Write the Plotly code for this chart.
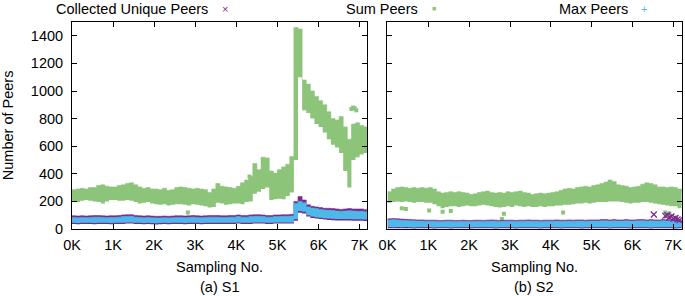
import plotly.graph_objects as go

# ---------------- data ----------------
sample_no = [i * 100 for i in range(73)]  # 0 .. 7200

x_tick_vals = [0, 1000, 2000, 3000, 4000, 5000, 6000, 7000]
x_tick_text = ["0K", "1K", "2K", "3K", "4K", "5K", "6K", "7K"]
y_tick_vals = [0, 200, 400, 600, 800, 1000, 1200, 1400]

# S1 – Sum Peers (upper / lower edge of the point cloud)
s1_sum_hi = [285, 290, 295, 290, 300, 300, 315, 320, 310, 305,
             305, 315, 320, 330, 335, 320, 305, 295, 300, 290,
             290, 285, 295, 280, 285, 300, 305, 300, 295, 290,
             295, 290, 285, 265, 290, 330, 310, 305, 300, 295,
             310, 335, 355, 380, 475, 430, 520, 515, 420, 405,
             430, 450, 470, 525, 1460, 1450, 1080, 1050, 1000, 960,
             930, 900, 850, 800, 790, 815, 740, 650, 760, 770,
             750, 740, 650]
s1_sum_lo = [200, 195, 205, 210, 205, 200, 195, 185, 200, 210,
             210, 205, 205, 210, 205, 195, 185, 190, 195, 185,
             180, 175, 180, 170, 175, 180, 180, 175, 170, 180,
             175, 170, 165, 155, 160, 190, 185, 175, 180, 185,
             185, 180, 195, 200, 255, 270, 290, 300, 210, 215,
             220, 215, 240, 265, 500, 1100, 860, 840, 800, 760,
             740, 700, 650, 610, 590, 550, 420, 300, 500, 520,
             540, 550, 560]
# S1 – Collected Unique Peers
s1_coll_hi = [96, 94, 96, 94, 96, 98, 98, 96, 94, 96,
              96, 98, 102, 104, 104, 98, 96, 94, 96, 94,
              92, 92, 94, 92, 94, 96, 96, 94, 96, 98,
              96, 94, 96, 98, 98, 98, 96, 96, 98, 98,
              102, 98, 98, 102, 104, 104, 102, 98, 98, 102,
              102, 104, 104, 106, 200, 235, 210, 175, 165, 160,
              155, 150, 150, 148, 145, 142, 145, 148, 145, 145,
              145, 140, 140]
s1_coll_lo = [36, 34, 36, 37, 36, 34, 36, 37, 36, 34,
              36, 37, 36, 39, 39, 37, 36, 34, 36, 34,
              32, 34, 36, 34, 36, 37, 36, 34, 36, 36,
              36, 34, 36, 37, 36, 37, 36, 36, 37, 37,
              39, 37, 36, 37, 39, 39, 39, 37, 37, 39,
              39, 39, 39, 39, 60, 118, 112, 90, 80, 76,
              72, 68, 66, 64, 62, 62, 62, 62, 60, 60,
              60, 58, 58]
# S1 – Max Peers
s1_max_hi = [84, 82, 84, 82, 84, 86, 86, 84, 82, 84,
             84, 86, 90, 92, 92, 86, 84, 82, 84, 82,
             80, 80, 82, 80, 82, 84, 84, 82, 84, 86,
             84, 82, 84, 86, 86, 86, 84, 84, 86, 86,
             90, 86, 86, 90, 92, 92, 90, 86, 86, 90,
             90, 92, 92, 94, 185, 200, 190, 160, 152, 148,
             142, 138, 136, 134, 130, 128, 130, 132, 130, 128,
             128, 125, 125]
s1_max_lo = [45, 43, 45, 46, 45, 43, 45, 46, 45, 43,
             45, 46, 45, 48, 48, 46, 45, 43, 45, 43,
             41, 43, 45, 43, 45, 46, 45, 43, 45, 45,
             45, 43, 45, 46, 45, 46, 45, 45, 46, 46,
             48, 46, 45, 46, 48, 48, 48, 46, 46, 48,
             48, 48, 48, 48, 70, 130, 125, 100, 90, 86,
             82, 78, 76, 74, 72, 72, 72, 72, 70, 70,
             70, 68, 68]

# S2 – Sum Peers
s2_sum_hi = [270, 290, 300, 305, 300, 295, 300, 295, 300, 295,
             300, 290, 270, 260, 265, 270, 265, 270, 265, 260,
             250, 255, 265, 270, 275, 265, 260, 265, 260, 270,
             265, 270, 275, 265, 260, 250, 255, 260, 255, 260,
             265, 270, 280, 290, 295, 290, 300, 305, 310, 305,
             315, 320, 330, 340, 355, 345, 320, 315, 310, 300,
             305, 310, 325, 335, 330, 320, 305, 305, 300, 305,
             300, 290, 260]
s2_sum_lo = [190, 195, 200, 195, 200, 195, 190, 195, 195, 190,
             190, 180, 165, 150, 160, 165, 165, 160, 165, 170,
             165, 165, 170, 175, 170, 165, 160, 155, 160, 165,
             160, 170, 165, 160, 165, 160, 160, 165, 160, 165,
             165, 170, 170, 175, 175, 180, 185, 185, 190, 185,
             190, 195, 195, 195, 200, 200, 200, 195, 190, 185,
             190, 190, 195, 195, 190, 185, 180, 175, 170, 165,
             165, 150, 150]
# S2 – Collected Unique Peers
s2_coll_hi = [74, 76, 74, 72, 70, 68, 67, 66, 66, 64,
              64, 64, 62, 62, 64, 64, 62, 62, 64, 62,
              62, 64, 64, 62, 64, 66, 64, 62, 64, 64,
              64, 62, 64, 64, 66, 64, 64, 62, 64, 64,
              64, 66, 64, 64, 66, 64, 66, 66, 64, 66,
              66, 66, 68, 68, 66, 68, 66, 66, 68, 66,
              66, 68, 68, 66, 68, 66, 66, 68, 66, 68,
              68, 66, 66]
s2_coll_lo = [6, 5, 6, 5, 6, 5, 4, 5, 6, 5,
              5, 4, 5, 6, 5, 4, 5, 5, 6, 5,
              4, 5, 5, 6, 5, 5, 4, 5, 6, 5,
              5, 4, 5, 5, 6, 5, 5, 4, 5, 6,
              5, 5, 4, 5, 6, 5, 5, 4, 5, 6,
              5, 5, 6, 5, 4, 5, 5, 6, 5, 4,
              5, 5, 6, 5, 4, 5, 5, 6, 5, 5,
              4, 5, 5]
# S2 – Max Peers
s2_max_hi = [66, 68, 66, 64, 62, 60, 59, 58, 58, 56,
             56, 56, 54, 54, 56, 56, 54, 54, 56, 54,
             54, 56, 56, 54, 56, 58, 56, 54, 56, 56,
             56, 54, 56, 56, 58, 56, 56, 54, 56, 56,
             56, 58, 56, 56, 58, 56, 58, 58, 56, 58,
             58, 58, 60, 60, 58, 60, 58, 58, 60, 58,
             58, 60, 60, 58, 60, 58, 58, 60, 58, 60,
             60, 58, 58]
s2_max_lo = [14, 12, 14, 12, 14, 12, 11, 12, 13, 12,
             12, 11, 12, 13, 12, 11, 12, 12, 13, 12,
             11, 12, 12, 13, 12, 12, 11, 12, 13, 12,
             12, 11, 12, 12, 13, 12, 12, 11, 12, 13,
             12, 12, 11, 12, 13, 12, 12, 11, 12, 13,
             12, 12, 13, 12, 11, 12, 12, 13, 12, 11,
             12, 12, 13, 12, 11, 12, 12, 13, 12, 12,
             11, 12, 12]

# isolated points outside the main clouds
s1_sum_out_x = [2820, 4320, 6800, 6840, 6880, 6920]
s1_sum_out_y = [120, 380, 870, 880, 875, 860]
s2_sum_out_x = [350, 450, 1020, 1350, 1550, 2800, 2850, 4300, 6800, 6900]
s2_sum_out_y = [150, 145, 134, 125, 130, 73, 110, 120, 120, 115]
s2_coll_out_x = [6520, 6800, 6850, 6900, 6950, 7000, 7050, 7100, 7150]
s2_coll_out_y = [105, 95, 100, 85, 90, 75, 80, 70, 65]

series_names = ["Collected Unique Peers", "Sum Peers", "Max Peers"]

# ---------------- styling ----------------
C_PURPLE = "#7d2a8e"
C_GREEN = "#8cc47a"
C_BLUE = "#4cb9e9"
FONT = "Liberation Sans, Arial, sans-serif"
FS = 14.5

W, H = 685, 296
ML, MR, MT, MB = 72, 1, 22, 67
PW, PH = W - ML - MR, H - MT - MB


def px_x(p):
    return (p - ML) / PW


def px_y(p):
    return (H - MB - p) / PH


fig = go.Figure()


def band(x, lo, hi, color, xa, ya):
    fig.add_trace(go.Scatter(x=x, y=lo, mode="lines", line=dict(width=0, color=color, shape="hv"),
                             showlegend=False, hoverinfo="skip", xaxis=xa, yaxis=ya))
    fig.add_trace(go.Scatter(x=x, y=hi, mode="lines", line=dict(width=0.6, color=color, shape="hv"),
                             fill="tonexty", fillcolor=color, showlegend=False,
                             hoverinfo="skip", xaxis=xa, yaxis=ya))


# S1
band(sample_no, s1_sum_lo, s1_sum_hi, C_GREEN, "x", "y")
fig.add_trace(go.Scatter(x=s1_sum_out_x, y=s1_sum_out_y, mode="markers",
                         marker=dict(symbol="square", size=4, color=C_GREEN),
                         showlegend=False, xaxis="x", yaxis="y"))
band(sample_no, s1_coll_lo, s1_coll_hi, C_PURPLE, "x", "y")
band(sample_no, s1_max_lo, s1_max_hi, C_BLUE, "x", "y")

# S2
band(sample_no, s2_sum_lo, s2_sum_hi, C_GREEN, "x2", "y2")
fig.add_trace(go.Scatter(x=s2_sum_out_x, y=s2_sum_out_y, mode="markers",
                         marker=dict(symbol="square", size=4, color=C_GREEN),
                         showlegend=False, xaxis="x2", yaxis="y2"))
band(sample_no, s2_coll_lo, s2_coll_hi, C_PURPLE, "x2", "y2")
band(sample_no, s2_max_lo, s2_max_hi, C_BLUE, "x2", "y2")
fig.add_trace(go.Scatter(x=s2_coll_out_x, y=s2_coll_out_y, mode="markers",
                         marker=dict(symbol="x-thin", size=6, color=C_PURPLE,
                                     line=dict(width=1.3, color=C_PURPLE)),
                         showlegend=False, xaxis="x2", yaxis="y2"))

axis_common = dict(showline=True, linecolor="black", linewidth=1, mirror="ticks",
                   ticks="inside", ticklen=5, tickcolor="black", tickwidth=1,
                   showgrid=False, zeroline=False,
                   tickfont=dict(family=FONT, size=FS, color="black"))

d1 = (0.0, px_x(368))
d2 = (px_x(388.5), 1.0)

fig.update_layout(
    width=W, height=H,
    margin=dict(l=ML, r=MR, t=MT, b=MB),
    paper_bgcolor="white", plot_bgcolor="white",
    showlegend=False,
    xaxis=dict(domain=d1, range=[0, 7180], tickvals=x_tick_vals, ticktext=x_tick_text,
               anchor="y", ticklabelstandoff=3, **axis_common),
    yaxis=dict(domain=[0, 1], range=[0, 1500], tickvals=y_tick_vals, anchor="x",
               ticklabelstandoff=5, **axis_common),
    xaxis2=dict(domain=d2, range=[0, 7210], tickvals=x_tick_vals, ticktext=x_tick_text,
                anchor="y2", ticklabelstandoff=3, **axis_common),
    yaxis2=dict(domain=[0, 1], range=[0, 1500], tickvals=y_tick_vals, anchor="x2",
                showticklabels=False, **axis_common),
)

ann = []
tf = dict(family=FONT, size=FS, color="black")
# axis titles and captions
ann.append(dict(x=px_x(7.5), y=0.5, xref="paper", yref="paper", text="Number of Peers",
                textangle=-90, showarrow=False, font=tf, xanchor="center", yanchor="middle"))
for cx, cap in [(220, "(a) S1"), (536, "(b) S2")]:
    ann.append(dict(x=px_x(cx), y=px_y(267), xref="paper", yref="paper", text="Sampling No.",
                    showarrow=False, font=tf, xanchor="center", yanchor="middle"))
    ann.append(dict(x=px_x(cx), y=px_y(287), xref="paper", yref="paper", text=cap,
                    showarrow=False, font=tf, xanchor="center", yanchor="middle"))
# legend (gnuplot-like: text, then sample)
legend_items = [(series_names[0], 210, 226, "×", C_PURPLE, 11),
                (series_names[1], 421, 435, "■", C_GREEN, 7),
                (series_names[2], 632, 646, "+", C_BLUE, 11)]
for name, tx, mx, sym, col, sz in legend_items:
    ann.append(dict(x=px_x(tx), y=px_y(9), xref="paper", yref="paper", text=name,
                    showarrow=False, font=tf, xanchor="right", yanchor="middle"))
    ann.append(dict(x=px_x(mx), y=px_y(9), xref="paper", yref="paper", text=sym,
                    showarrow=False, font=dict(family=FONT, size=sz, color=col),
                    xanchor="center", yanchor="middle"))
fig.update_layout(annotations=ann)

fig.write_html(
    "out.html",
    config={"displayModeBar": False},
    post_script="document.body.style.margin='0';document.body.style.overflow='hidden';",
)
